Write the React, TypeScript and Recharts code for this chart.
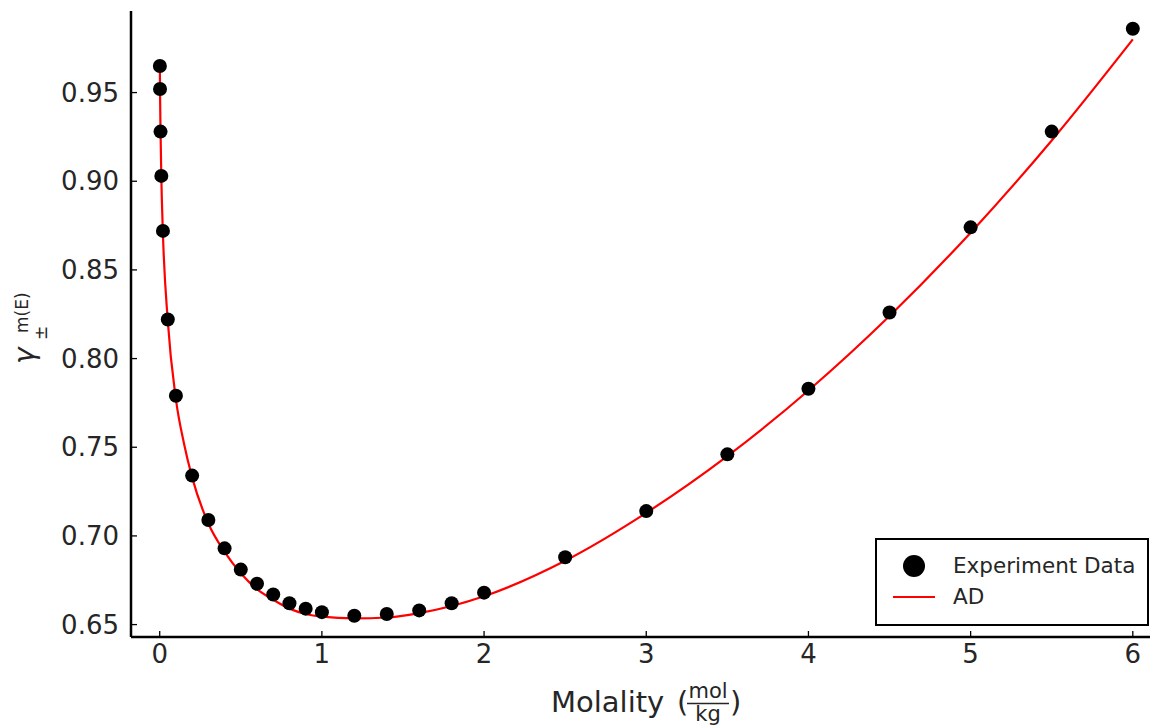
import React from 'react';
import {
    ComposedChart, Line, Scatter, XAxis, YAxis, Legend, Label
} from 'recharts';

/* --- data --- */
const expMolality = [0.001, 0.002, 0.005, 0.01, 0.02, 0.05, 0.1, 0.2, 0.3, 0.4, 0.5, 0.6, 0.7, 0.8, 0.9, 1.0,
    1.2, 1.4, 1.6, 1.8, 2.0, 2.5, 3.0, 3.5, 4.0, 4.5, 5.0, 5.5, 6.0];
const expGamma = [0.965, 0.952, 0.928, 0.903, 0.872, 0.822, 0.779, 0.734, 0.709, 0.693, 0.681, 0.673, 0.667, 0.662, 0.659, 0.657,
    0.655, 0.656, 0.658, 0.662, 0.668, 0.688, 0.714, 0.746, 0.783, 0.826, 0.874, 0.928, 0.986];

const adMolality = [0.001, 0.002, 0.005, 0.01, 0.02, 0.05, 0.1, 0.15, 0.2, 0.3, 0.4, 0.5, 0.6, 0.7, 0.8, 0.9, 1.0,
    1.2, 1.4, 1.6, 1.8, 2.0, 2.5, 3.0, 3.5, 4.0, 4.5, 5.0, 5.5, 6.0];
const adGamma = [0.964, 0.951, 0.929, 0.902, 0.870, 0.821, 0.777, 0.752, 0.733, 0.707, 0.691, 0.679, 0.670, 0.664, 0.659, 0.656, 0.6545,
    0.6535, 0.654, 0.6565, 0.6605, 0.666, 0.686, 0.713, 0.745, 0.782, 0.824, 0.871, 0.923, 0.980];

const xTicks = [0, 1, 2, 3, 4, 5, 6];
const yTicks = [0.65, 0.70, 0.75, 0.80, 0.85, 0.90, 0.95];

const expData = expMolality.map((x, i) => ({ x, y: expGamma[i] }));
const adData = adMolality.map((x, i) => ({ x, y: adGamma[i] }));

const FONT = '"DejaVu Sans", sans-serif';
const tickStyle = { fill: '#262626', fontSize: 26, fontFamily: FONT };

const Dot = (props: any) => <circle cx={props.cx} cy={props.cy} r={7} fill="#000" />;

const XLabel = () => (
    <g fontFamily={FONT} fill="#262626">
        <text x={551} y={712} fontSize={29}>Molality</text>
        <text x={677} y={712} fontSize={29}>(</text>
        <text x={708} y={698} fontSize={21} textAnchor="middle">mol</text>
        <line x1={687} x2={729} y1={703.5} y2={703.5} stroke="#262626" strokeWidth={1.3} />
        <text x={708} y={721} fontSize={21} textAnchor="middle">kg</text>
        <text x={730} y={712} fontSize={29}>)</text>
    </g>
);

const YLabel = () => (
    <g fontFamily={FONT} fill="#262626" transform="rotate(-90)">
        <text x={-364} y={34} fontSize={28} fontStyle="italic">γ</text>
        <text x={-340} y={47} fontSize={17}>±</text>
        <text x={-333} y={28} fontSize={17}>m(E)</text>
    </g>
);

const LegendBox = () => (
    <div style={{
        width: 270, height: 84, border: '2px solid #000', background: '#fff',
        fontFamily: FONT, fontSize: 21.5, color: '#262626', position: 'relative'
    }}>
        <svg width={60} height={84} style={{ position: 'absolute', left: 0, top: 0 }}>
            <circle cx={37} cy={26} r={11} fill="#000" />
            <line x1={16} x2={58} y1={57} y2={57} stroke="#ff0000" strokeWidth={2} />
        </svg>
        <div style={{ position: 'absolute', left: 76, top: 12, lineHeight: '28px' }}>Experiment Data</div>
        <div style={{ position: 'absolute', left: 76, top: 43, lineHeight: '28px' }}>AD</div>
    </div>
);

export default function App() {
    return (
        <div style={{ position: 'absolute', left: 0, top: 0, width: 1150, height: 727, background: '#fff' }}>
            <ComposedChart width={1150} height={727} margin={{ top: 11, right: 0, bottom: 0, left: 0 }}>
                <XAxis
                    type="number"
                    dataKey="x"
                    domain={[-0.177, 6.106]}
                    ticks={xTicks}
                    allowDataOverflow
                    height={90}
                    stroke="#000"
                    strokeWidth={2.5}
                    tickSize={-6}
                    tickMargin={14}
                    tick={tickStyle}
                    tickLine={{ stroke: '#000', strokeWidth: 1.3 }}
                >
                    <Label content={<XLabel />} />
                </XAxis>
                <YAxis
                    type="number"
                    dataKey="y"
                    domain={[0.643, 0.996]}
                    ticks={yTicks}
                    allowDataOverflow
                    width={131}
                    stroke="#000"
                    strokeWidth={2.5}
                    tickSize={-6}
                    tickMargin={18}
                    tick={tickStyle}
                    tickLine={{ stroke: '#000', strokeWidth: 1.3 }}
                    tickFormatter={(v: number) => v.toFixed(2)}
                >
                    <Label content={<YLabel />} />
                </YAxis>
                <Line
                    data={adData}
                    dataKey="y"
                    type="monotone"
                    stroke="#ff0000"
                    strokeWidth={2.2}
                    dot={false}
                    activeDot={false}
                    isAnimationActive={false}
                    name="AD"
                />
                <Scatter
                    data={expData}
                    dataKey="y"
                    shape={Dot}
                    isAnimationActive={false}
                    name="Experiment Data"
                />
                <Legend
                    layout="horizontal"
                    verticalAlign="middle"
                    align="center"
                    content={<LegendBox />}
                    wrapperStyle={{ left: 875, top: 538, width: 274, height: 88 }}
                />
            </ComposedChart>
        </div>
    );
}
